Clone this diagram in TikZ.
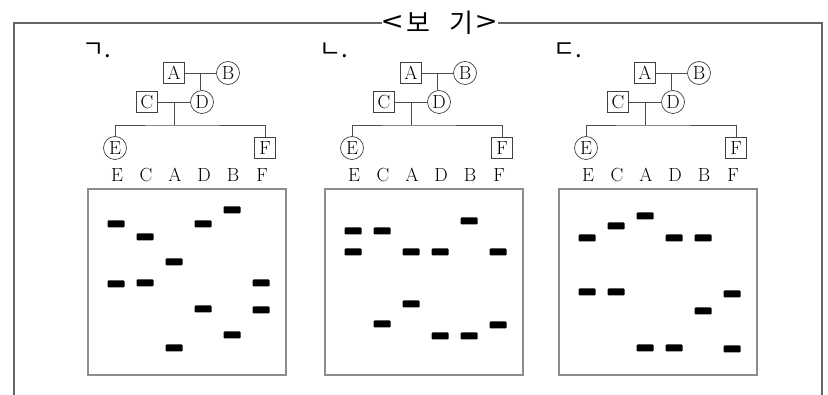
\documentclass[tikz,border=0pt]{standalone}
\usepackage{fontspec}
\newfontfamily\cjk{Noto Sans CJK KR}
\tikzset{
  male/.style={draw=black!75, line width=0.7pt, minimum size=21pt, inner sep=0pt},
  female/.style={male, circle, minimum size=23pt},
  kin/.style={black!70, line width=0.7pt},
  gel/.style={black!45, line width=1.4pt},
  band/.style={fill=black, rounded corners=1pt},
  frame/.style={black!60, line width=1.6pt},
}
\begin{document}
\begin{tikzpicture}[x=1pt,y=-1pt,font=\fontsize{19}{19}\selectfont]
    \useasboundingbox (0,0) rectangle (828,395);
    \node[font=\cjk\fontsize{26}{26}\selectfont,fill=white,inner sep=1pt] (title) at (440,23) {\scalebox{1.4}[1.1]{<}\hspace{0.15em}보\hspace{0.7em}기\hspace{0.15em}\scalebox{1.4}[1.1]{>}};
    \draw[frame] (14,395) |- (title.west) (title.east) -| (822,395);
    \foreach \gx/\ptag/\bands in {
        88/ㄱ/{0/224,0/284,1/237,1/283,2/262,2/348,3/224,3/309,4/210,4/335,5/283,5/310},
        325/ㄴ/{0/231,0/252,1/231,1/324,2/252,2/304,3/252,3/336,4/221,4/336,5/252,5/325},
        559/ㄷ/{0/238,0/292,1/226,1/292,2/216,2/348,3/238,3/348,4/238,4/311,5/294,5/349}} {
        \begin{scope}[shift={(\gx,0)},name prefix=p\gx-]
            \node[font=\cjk\fontsize{24}{24}\selectfont] (tag) at (9,50) {\ptag.};
            \node[male] (A) at (86,73) {A};
            \node[female] (B) at (140,73) {B};
            \node[male] (C) at (59,102) {C};
            \node[female] (D) at (114,102) {D};
            \node[female] (E) at (27,148) {E};
            \node[male] (F) at (177,148) {F};
            \draw[kin] (A) -- coordinate (ab) (B);
            \draw[kin] (ab) -- (ab |- D.north);
            \draw[kin] (C) -- coordinate (cd) (D);
            \draw[kin] (cd) -- ++(0,23) coordinate (sib);
            \draw[kin] (E.north) |- (sib) -| (F.north);
            \foreach \n [count=\i from 0] in {E,C,A,D,B,F}
                \node (lane\n) at (29+29*\i,175) {\n};
            \draw[gel] (0,189) rectangle (198,375);
            \foreach \i/\y in \bands
                \fill[band] (28+29*\i-8.5,\y-3.5) rectangle ++(17,7);
        \end{scope}
    }
\end{tikzpicture}
\end{document}
